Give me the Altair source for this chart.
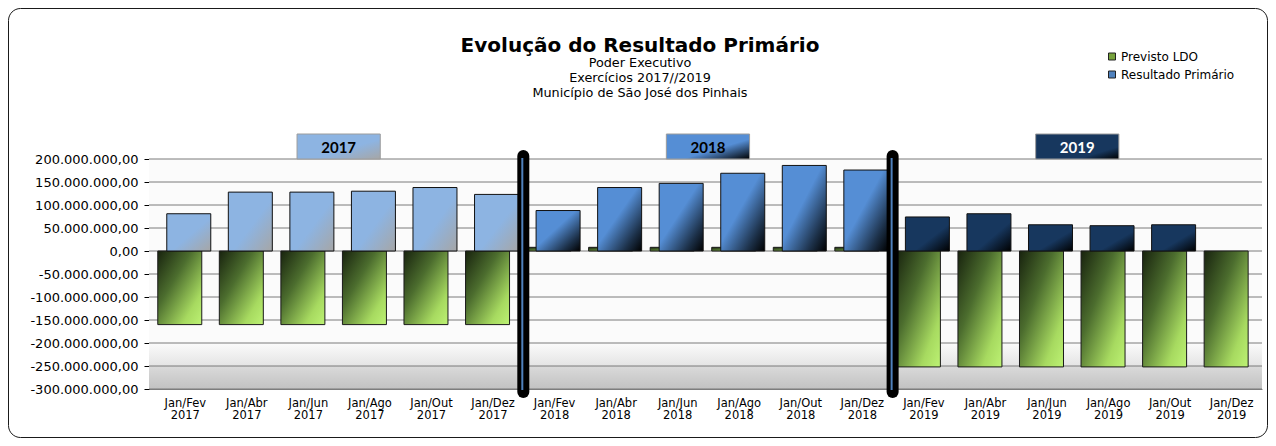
import json
import altair as alt
import pandas as pd

# ---------------- data ----------------
periodos = ["Jan/Fev", "Jan/Abr", "Jan/Jun", "Jan/Ago", "Jan/Out", "Jan/Dez"]
anos = ["2017", "2018", "2019"]
series = ["Previsto LDO", "Resultado Primário"]

previsto_2017 = [-160000000, -160000000, -160000000, -160000000, -160000000, -160000000]
resultado_2017 = [81000000, 128000000, 128000000, 130000000, 138000000, 123000000]
previsto_2018 = [8000000, 8000000, 8000000, 8000000, 8000000, 8000000]
resultado_2018 = [88000000, 138000000, 147000000, 169000000, 186000000, 176000000]
previsto_2019 = [-252000000, -252000000, -252000000, -252000000, -252000000, -252000000]
resultado_2019 = [74000000, 81000000, 57000000, 55000000, 57000000, None]

y_ticks = [-300000000, -250000000, -200000000, -150000000, -100000000,
           -50000000, 0, 50000000, 100000000, 150000000, 200000000]

previstos = [previsto_2017, previsto_2018, previsto_2019]
resultados = [resultado_2017, resultado_2018, resultado_2019]

rows = []
for yi, ano in enumerate(anos):
    for mi, per in enumerate(periodos):
        idx = yi * len(periodos) + mi
        rows.append({"idx": idx, "ano": ano, "serie": series[0], "valor": previstos[yi][mi]})
        if resultados[yi][mi] is not None:
            rows.append({"idx": idx, "ano": ano, "serie": series[1], "valor": resultados[yi][mi]})
df = pd.DataFrame(rows)

labels = [f"{p} {a}" for a in anos for p in periodos]
anos_df = pd.DataFrame({"ano": anos, "painel": list(range(len(anos)))})

# ---------------- layout ----------------
W, H = 1113, 230
FONT = "DejaVu Sans"

x_scale = alt.Scale(domain=[-0.5, 17.42], nice=False, zero=False)
y_scale = alt.Scale(domain=[-300000000, 200000000], nice=False)

x_axis = alt.Axis(
    values=list(range(len(labels))),
    labelExpr="split(" + json.dumps(labels) + "[datum.value], ' ')",
    title=None, grid=False, ticks=False, domain=True, domainColor="#808080",
    labelFont=FONT, labelFontSize=11.5, labelColor="#000", labelLineHeight=12,
    labelPadding=8, labelAngle=0, labelOverlap=False,
)
y_axis = alt.Axis(
    values=y_ticks,
    labelExpr=(
        "replace(replace(replace(replace(format(datum.value, ',.2f'), regexp(',', 'g'), '#'),"
        " regexp('[.]', 'g'), ','), regexp('#', 'g'), '.'), '\u2212', '-')"
    ),
    title=None, grid=False, ticks=True, tickSize=5, tickColor="#000",
    domain=True, domainColor="#000", labelFont=FONT, labelFontSize=13,
    labelColor="#000", labelPadding=6,
)


def X(field):
    return alt.X(field, type="quantitative", scale=x_scale, axis=x_axis)


def grad(stops, x2=1, y2=1):
    return alt.LinearGradient(
        gradient="linear", x1=0, y1=0, x2=x2, y2=y2,
        stops=[alt.GradientStop(offset=o, color=c) for o, c in stops],
    )


verde = grad([(0, "#18230e"), (0.38, "#4c6d2e"), (0.78, "#a7da60"), (1, "#bdf274")])
azul = {
    "2017": grad([(0, "#8db4e2"), (0.55, "#8db4e2"), (1, "#a6a6a6")]),
    "2018": grad([(0, "#558ed5"), (0.45, "#558ed5"), (0.8, "#1c3048"), (1, "#000000")]),
    "2019": grad([(0, "#17375e"), (0.6, "#17375e"), (1, "#000000")]),
}
caixa = {
    "2017": grad([(0, "#8db4e2"), (0.6, "#8db4e2"), (1, "#a6a6a6")]),
    "2018": grad([(0, "#558ed5"), (0.6, "#558ed5"), (1, "#000000")]),
    "2019": grad([(0, "#17375e"), (0.75, "#17375e"), (1, "#000000")]),
}

one = alt.Data(values=[{"k": 1}])

# plot-area background
fundo = alt.Chart(one).mark_rect(
    fill=grad([(0, "#fbfbfb"), (0.8, "#fbfbfb"), (0.9, "#e4e4e4"), (0.9, "#dadada"), (1, "#c2c2c2")], x2=0, y2=1)
).encode(x=alt.value(0), x2=alt.value(W), y=alt.value(0), y2=alt.value(H))

grade = alt.Chart(pd.DataFrame({"v": y_ticks})).mark_rule(color="#7a7a7a", strokeWidth=1).encode(
    y=alt.Y("v:Q", scale=y_scale, axis=y_axis)
)

layers = [fundo, grade]

for ano in anos:
    layers.append(
        alt.Chart(df).transform_filter(
            f"datum.ano == '{ano}' && datum.serie == '{series[0]}'"
        ).mark_bar(width=44, xOffset=-5, orient="vertical", fill=verde, stroke="#1a1a1a", strokeWidth=1).encode(
            x=X("idx"),
            y=alt.Y("valor:Q", scale=y_scale, axis=y_axis),
        )
    )
for ano in anos:
    layers.append(
        alt.Chart(df).transform_filter(
            f"datum.ano == '{ano}' && datum.serie == '{series[1]}'"
        ).mark_bar(width=44, xOffset=4, orient="vertical", fill=azul[ano], stroke="#111111", strokeWidth=1).encode(
            x=X("idx"),
            y=alt.Y("valor:Q", scale=y_scale, axis=y_axis),
        )
    )

# panel separators
sep_base = alt.Chart(anos_df).transform_filter("datum.painel > 0").transform_calculate(
    sep="datum.painel * 6 - 0.5"
)
layers.append(
    sep_base.mark_rule(strokeWidth=12, strokeCap="round", color="#000").encode(
        x=X("sep"), y=alt.value(-3), y2=alt.value(233)
    )
)
layers.append(
    sep_base.mark_rule(strokeWidth=2, color="#4f81bd", xOffset=-1).encode(
        x=X("sep"), y=alt.value(-1), y2=alt.value(231)
    )
)

# year boxes
box_base = alt.Chart(anos_df).transform_calculate(
    centro="datum.painel * 6 + 2.5", xs="datum.painel * 6 + 2.5 - 0.676", xe="datum.painel * 6 + 2.5 + 0.676"
)
for ano in anos:
    layers.append(
        box_base.transform_filter(f"datum.ano == '{ano}'").mark_rect(
            fill=caixa[ano], stroke="#9c9c9c", strokeWidth=1
        ).encode(
            x=X("xs"), x2="xe:Q",
            y=alt.value(-25), y2=alt.value(0),
        )
    )
layers.append(
    box_base.mark_text(font="Lato", fontSize=15, fontWeight="bold", baseline="middle", align="center", dy=1).encode(
        x=X("centro"), y=alt.value(-12.5), text="ano:N",
        color=alt.condition("datum.ano == '2019'", alt.value("#ffffff"), alt.value("#000000")),
    )
)

# titles
layers.append(
    alt.Chart(alt.Data(values=[{"t": "Evolução do Resultado Primário"}])).mark_text(
        font=FONT, fontSize=20, fontWeight="bold", align="center", baseline="alphabetic", color="#000"
    ).encode(x=alt.value(491), y=alt.value(-107.5), text="t:N")
)
layers.append(
    alt.Chart(alt.Data(values=[{"t": "Poder Executivo\nExercícios  2017//2019\nMunicípio de São José dos Pinhais"}])).mark_text(
        font=FONT, fontSize=12.8, align="center", baseline="alphabetic", color="#000", lineBreak="\n", lineHeight=15
    ).encode(x=alt.value(491), y=alt.value(-92.5), text="t:N")
)

# legend (built from the colour scale)
layers.append(
    alt.Chart(df).transform_filter("false").mark_square(opacity=1).encode(
        color=alt.Color(
            "serie:N",
            scale=alt.Scale(domain=series, range=["#77a23c", "#4f81bd"]),
            legend=alt.Legend(
                orient="none", legendX=957, legendY=-108.5, title=None, symbolType="square",
                symbolSize=49, symbolStrokeColor="#222", symbolStrokeWidth=1,
                labelFont=FONT, labelFontSize=12, labelColor="#000", rowPadding=6,
                padding=0, labelOffset=3,
            ),
        )
    )
)

# outer rounded frame
layers.append(
    alt.Chart(one).mark_rect(fillOpacity=0, stroke="#1a1a1a", strokeWidth=1, cornerRadius=12).encode(
        x=alt.value(-140.5), x2=alt.value(1118.5), y=alt.value(-150.5), y2=alt.value(278.5)
    )
)

chart = alt.layer(*layers).properties(
    width=W, height=H,
    autosize=alt.AutoSizeParams(type="none"),
    padding={"left": 141, "top": 151, "right": 6, "bottom": 49},
    background="#ffffff",
).configure_view(stroke=None)

chart.save("out.html", embed_options={"renderer": "svg", "actions": False})
